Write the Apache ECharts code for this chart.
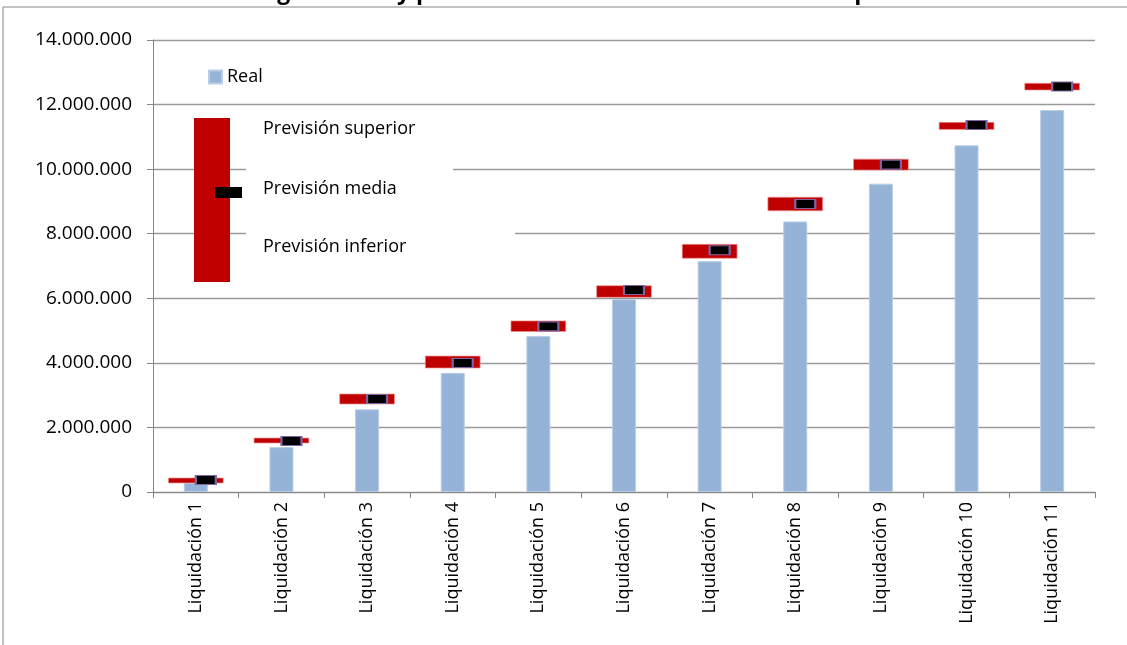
<!DOCTYPE html>
<html>
<head>
<meta charset="utf-8">
<script src="https://cdn.jsdelivr.net/npm/echarts@6/dist/echarts.min.js"></script>
<style>html,body{margin:0;padding:0;background:#fff}#c{width:1127px;height:645px}</style>
</head>
<body>
<div id="c"></div>
<script>
var categories = ['Liquidación 1','Liquidación 2','Liquidación 3','Liquidación 4','Liquidación 5','Liquidación 6','Liquidación 7','Liquidación 8','Liquidación 9','Liquidación 10','Liquidación 11'];
var realValues = [280000, 1390000, 2560000, 3690000, 4830000, 5970000, 7150000, 8380000, 9550000, 10740000, 11830000];
var upperValues = [434000, 1672000, 3035000, 4210000, 5300000, 6390000, 7670000, 9130000, 10310000, 11450000, 12660000];
var lowerValues = [279000, 1517000, 2725000, 3840000, 4970000, 6030000, 7240000, 8710000, 9970000, 11230000, 12450000];
var meanValues = [370000, 1580000, 2880000, 3995000, 5130000, 6260000, 7490000, 8920000, 10140000, 11370000, 12560000];
var yTicks = [0, 2000000, 4000000, 6000000, 8000000, 10000000, 12000000, 14000000];

function fmt(v){ return String(v).replace(/\B(?=(\d{3})+(?!\d))/g, '.'); }

var chart = echarts.init(document.getElementById('c'));
var FONT = 'Open Sans';
var rangeData = categories.map(function(c, i){ return [i, lowerValues[i], upperValues[i]]; });
var meanData = categories.map(function(c, i){ return [i, meanValues[i]]; });

chart.setOption({
  animation: false,
  title: {
    text: 'Ingreso real y previsión con base en el historial de liquidaciones',
    right: 137, top: -24,
    textStyle: { fontFamily: FONT, fontSize: 23, fontWeight: 'bold', color: '#000' }
  },
  legend: {
    data: [{ name: 'Real', icon: 'rect' }],
    left: 203, top: 63,
    itemWidth: 13, itemHeight: 13, itemGap: 5,
    textStyle: { fontFamily: FONT, fontSize: 18, color: '#000' }
  },
  grid: { left: 153, right: 32, top: 40, bottom: 153, containLabel: false },
  xAxis: {
    type: 'category',
    data: categories,
    boundaryGap: true,
    axisLine: { lineStyle: { color: '#868686', width: 1 } },
    axisTick: { show: true, length: 6, lineStyle: { color: '#868686' } },
    axisLabel: { rotate: 90, margin: 10, fontFamily: FONT, fontSize: 18, color: '#000', interval: 0 }
  },
  yAxis: {
    type: 'value',
    min: yTicks[0], max: yTicks[yTicks.length - 1], interval: 2000000,
    axisLine: { show: true, lineStyle: { color: '#868686', width: 1 } },
    axisTick: { show: true, length: 6, lineStyle: { color: '#868686' } },
    splitLine: { lineStyle: { color: '#9a9a9a', width: 1.3 } },
    axisLabel: { formatter: fmt, margin: 21, fontFamily: FONT, fontSize: 19, color: '#000' }
  },
  series: [
    {
      name: 'Real', type: 'bar', data: realValues, barWidth: 24, z: 2,
      itemStyle: { color: '#95B3D7', borderColor: '#B9CDE5', borderWidth: 1 }
    },
    {
      name: 'Previsión', type: 'custom', z: 3,
      data: rangeData,
      encode: { x: 0, y: [1, 2] },
      renderItem: function(params, api){
        var lo = api.coord([api.value(0), api.value(1)]);
        var hi = api.coord([api.value(0), api.value(2)]);
        var w = api.size([1, 0])[0] * 0.64;
        return {
          type: 'rect',
          shape: { x: lo[0] - w / 2, y: hi[1], width: w, height: lo[1] - hi[1] },
          style: { fill: '#C00000', stroke: 'rgba(240,150,150,0.7)', lineWidth: 1 }
        };
      }
    },
    {
      name: 'Previsión media', type: 'scatter', z: 4,
      data: meanData,
      symbol: 'rect', symbolSize: [20, 9], symbolOffset: [10, 0],
      itemStyle: { color: '#000', borderColor: '#8064A2', borderWidth: 1.5, opacity: 1 }
    }
  ],
  graphic: [
    { type: 'rect', z: 0, silent: true, shape: { x: 3, y: 7, width: 1140, height: 700 }, style: { fill: 'none', stroke: '#868686', lineWidth: 1 } },
    { type: 'rect', z: 10, shape: { x: 246, y: 150, width: 207, height: 65 }, style: { fill: '#fff' } },
    { type: 'rect', z: 10, shape: { x: 246, y: 220, width: 269, height: 50 }, style: { fill: '#fff' } },
    { type: 'rect', z: 11, shape: { x: 194, y: 118, width: 36, height: 164 }, style: { fill: '#C00000' } },
    { type: 'rect', z: 12, shape: { x: 215, y: 187, width: 27, height: 11 }, style: { fill: '#000' } },
    { type: 'text', z: 12, x: 263, y: 129, style: { text: 'Previsión superior', fontFamily: FONT, fontSize: 18, fill: '#000', textVerticalAlign: 'middle' } },
    { type: 'text', z: 12, x: 263, y: 189, style: { text: 'Previsión media', fontFamily: FONT, fontSize: 18, fill: '#000', textVerticalAlign: 'middle' } },
    { type: 'text', z: 12, x: 263, y: 247, style: { text: 'Previsión inferior', fontFamily: FONT, fontSize: 18, fill: '#000', textVerticalAlign: 'middle' } }
  ]
});
</script>
</body>
</html>
